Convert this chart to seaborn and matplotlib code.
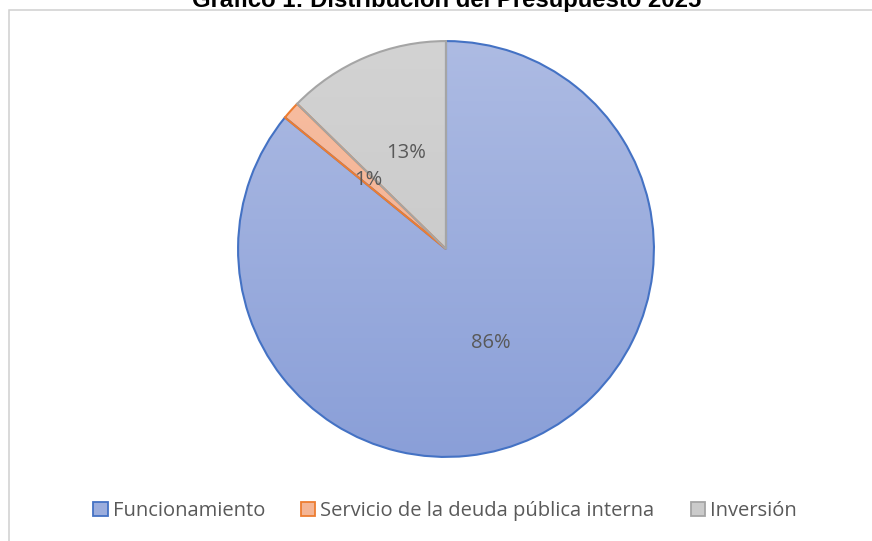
import numpy as np
import matplotlib
matplotlib.use('Agg')
import matplotlib.pyplot as plt
import seaborn as sns
from matplotlib.colors import LinearSegmentedColormap
from matplotlib.patches import Patch, Rectangle

# --- データ ---
TITLE = 'Gráfico 1: Distribución del Presupuesto 2025'
categories = ['Funcionamiento', 'Servicio de la deuda pública interna', 'Inversión']
values = [85.9, 1.4, 12.7]

# --- 色 ---
top_colors = ['#ADBBE3', '#F7BFA3', '#D3D3D3']
bottom_colors = ['#8A9FD8', '#F2AA88', '#C4C4C4']
mid_colors = ['#9BADDD', '#F4B595', '#CBCBCB']
edge_colors = ['#4472C4', '#ED7D31', '#A5A5A5']
TEXT_COLOR = '#595959'

sns.set_theme(style='white')
plt.rcParams['font.family'] = ['Open Sans', 'DejaVu Sans']

W, H = 872, 541
fig = plt.figure(figsize=(W / 100, H / 100), dpi=100)

# 枠線
fig.patches.append(Rectangle((8.5 / W, -0.1), 1.2, 1.1 - 10.5 / H,
                             transform=fig.transFigure, fill=False,
                             edgecolor='#D0D0D0', linewidth=1.1))

# タイトル（上端が切れている）
fig.text(447 / W, 1 - 7 / H, TITLE, ha='center', va='baseline',
         fontsize=17.2, fontweight='bold', family=['Liberation Sans', 'DejaVu Sans'],
         color='black')

# 円グラフ
cx, cy, r = 446, 541 - 249, 210
ax = fig.add_axes([(cx - r) / W, (cy - r) / H, 2 * r / W, 2 * r / H])
wedges, texts, autotexts = ax.pie(
    values, startangle=90, counterclock=False, radius=1,
    autopct='%.0f%%', pctdistance=0.5,
    textprops=dict(color=TEXT_COLOR, fontsize=14.5),
    wedgeprops=dict(linewidth=1.5))

grad = np.linspace(0, 1, 256).reshape(-1, 1)
for w, tc, bc, ec in zip(wedges, top_colors, bottom_colors, edge_colors):
    w.set_facecolor('none')
    w.set_edgecolor(ec)
    w.set_zorder(2)
    cmap = LinearSegmentedColormap.from_list('g', [tc, bc])
    im = ax.imshow(grad, extent=(-1, 1, -1, 1), cmap=cmap, aspect='auto',
                   zorder=1, interpolation='bilinear')
    im.set_clip_path(w)
for t in autotexts:
    t.set_zorder(3)

ax.set_xlim(-1.01, 1.01)
ax.set_ylim(-1.01, 1.01)
ax.set_aspect('equal')
ax.axis('off')

# 凡例
handles = [Patch(facecolor=fc, edgecolor=ec, linewidth=1.3)
           for fc, ec in zip(mid_colors, edge_colors)]
leg = fig.legend(handles, categories, loc='center', ncol=3,
                 bbox_to_anchor=(445 / W, 30 / H), frameon=False,
                 fontsize=14.5, handlelength=0.7, handleheight=0.7,
                 handletextpad=0.25, columnspacing=1.8)
for t in leg.get_texts():
    t.set_color(TEXT_COLOR)

fig.savefig('out.png', dpi=100)
